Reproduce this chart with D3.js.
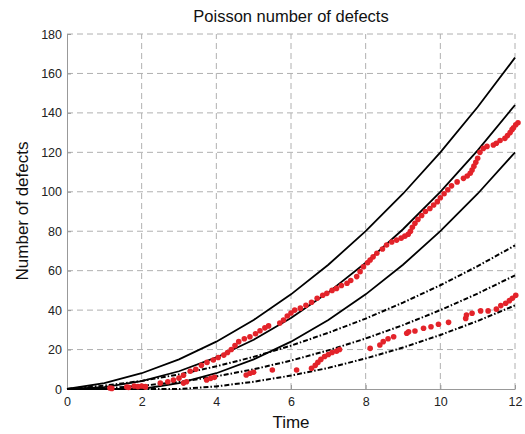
<html>
<head>
<style>
  body { margin: 0; background: #fff; }
  .grid line { stroke: #b0b0b0; stroke-width: 1; stroke-dasharray: 6,4; }
  .axis path, .axis line { stroke: #999; }
  .axis text { fill: #222; font-size: 12.5px; font-family: "Liberation Sans", Arial, sans-serif; }
  .lbl { font-family: "Liberation Sans", Arial, sans-serif; fill: #111; }
</style>
<script src="https://cdnjs.cloudflare.com/ajax/libs/d3/7.8.5/d3.min.js"></script>
</head>
<body>
<script>
var width = 525, height = 434;

// time points of the model curves
var times = [0, 1, 2, 3, 4, 5, 6, 7, 8, 9, 10, 11, 12];
// solid: mean and bounds of process 1
var upper1 = [0, 3, 8, 15, 24, 35, 48, 63, 80, 99, 120, 143, 168];
var mean1  = [0, 1, 4, 9, 16, 25, 36, 49, 64, 81, 100, 121, 144];
var lower1 = [0, 0, 0, 3, 8, 15, 24, 35, 48, 63, 80, 99, 120];
// dash-dot: mean and bounds of process 2
var upper2 = [0, 1.7, 4.1, 7.4, 11.5, 16.3, 22, 28.5, 35.7, 43.8, 52.6, 62.3, 72.8];
var mean2  = [0, 0.4, 1.6, 3.6, 6.4, 10, 14.4, 19.6, 25.6, 32.4, 40, 48.4, 57.6];
var lower2 = [0, 0, 0, 0, 1.3, 3.7, 6.8, 10.7, 15.5, 21, 27.4, 34.5, 42.4];

// observed defects (time, count)
var obs1 = [[1.15,0.5],[1.6,1],[1.8,1.5],[2.0,1.5],[2.1,1.2],[2.5,3],[2.7,3.7],[2.85,4.6],[3.0,5.5],[3.12,7],
  [3.3,9],[3.45,10],[3.6,12],[3.75,13.5],[3.92,14.7],[4.05,16],[4.2,17.2],[4.3,18.5],[4.4,20],[4.5,22],
  [4.6,24],[4.75,25.5],[4.9,26.5],[5.05,28],[5.17,29.5],[5.3,31],[5.4,32],[5.7,33.5],[5.8,35],[5.9,37],
  [6.0,38.5],[6.1,40],[6.25,41],[6.4,42.5],[6.55,44],[6.7,46],[6.85,47.5],[6.96,48.5],[7.1,50],[7.22,51],
  [7.35,52.5],[7.5,53.6],[7.6,55],[7.76,57],[7.85,59.5],[7.94,62],[8.05,64],[8.12,65.4],[8.2,67],[8.3,68.8],
  [8.45,71],[8.56,73],[8.7,74.5],[8.83,75.5],[8.95,76.5],[9.05,77.5],[9.14,78.5],[9.2,80],[9.25,82],[9.32,84],
  [9.4,86],[9.5,88],[9.6,90],[9.72,91.5],[9.82,93.3],[9.92,95],[10.0,97],[10.1,99],[10.2,101],[10.3,103],
  [10.45,105],[10.62,106.8],[10.72,108],[10.8,109.4],[10.85,111],[10.9,113],[10.95,115],[11.0,117],[11.06,120],
  [11.15,122],[11.25,123],[11.42,123.7],[11.5,124.6],[11.6,126],[11.73,127.1],[11.8,128.5],[11.87,130],
  [11.92,131.5],[11.96,132.5],[12.02,134],[12.08,135]];
var obs2 = [[1.2,0.3],[1.65,0.8],[1.9,1.2],[2.1,1],[3.12,3],[3.2,3.7],[3.74,4.6],[3.85,5.4],[3.95,5.9],
  [4.8,7.1],[4.9,8],[5.0,8.5],[5.5,9.6],[6.15,9.6],[6.55,10.5],[6.65,12],[6.72,13.5],[6.8,15],[6.9,16.5],
  [7.0,17.5],[7.1,18.5],[7.22,19.2],[7.3,20],[8.12,20.6],[8.38,22.3],[8.47,24],[8.6,25.5],[8.75,26.5],
  [9.1,28.3],[9.15,29],[9.32,29.4],[9.55,30.8],[9.75,31.6],[9.95,32.8],[10.22,33.8],[10.68,35.8],[10.7,37.5],
  [10.85,38.4],[11.08,39.6],[11.28,39.6],[11.5,40.5],[11.62,42.3],[11.75,43.5],[11.85,44.8],[11.93,46],[12.02,47.5]];

var xTicks = [0, 2, 4, 6, 8, 10, 12];
var yTicks = [0, 20, 40, 60, 80, 100, 120, 140, 160, 180];

var svg = d3.select("body").append("svg")
    .attr("width", width)
    .attr("height", height);

var x = d3.scaleLinear().domain([0, 12]).range([67, 515]);
var y = d3.scaleLinear().domain([0, 180]).range([389, 34]);

// grid
var grid = svg.append("g").attr("class", "grid");
grid.selectAll(".gx").data(xTicks.slice(1)).enter().append("line")
    .attr("x1", d => x(d)).attr("x2", d => x(d))
    .attr("y1", y(0)).attr("y2", y(180));
grid.selectAll(".gy").data(yTicks.slice(1)).enter().append("line")
    .attr("x1", x(0)).attr("x2", x(12))
    .attr("y1", d => y(d)).attr("y2", d => y(d));

// axes
svg.append("g").attr("class", "axis")
    .attr("transform", "translate(0," + y(0) + ")")
    .call(d3.axisBottom(x).tickValues(xTicks).tickSizeInner(-4).tickSizeOuter(0).tickPadding(8));
svg.append("g").attr("class", "axis")
    .attr("transform", "translate(" + x(0) + ",0)")
    .call(d3.axisLeft(y).tickValues(yTicks).tickSizeInner(-4).tickSizeOuter(0).tickPadding(5));

var line = d3.line()
    .x((d, i) => x(times[i]))
    .y(d => y(d));

[upper1, mean1, lower1].forEach(function(s) {
    svg.append("path").datum(s)
        .attr("d", line)
        .attr("fill", "none")
        .attr("stroke", "#000")
        .attr("stroke-width", 1.8);
});
[upper2, mean2, lower2].forEach(function(s) {
    svg.append("path").datum(s)
        .attr("d", line)
        .attr("fill", "none")
        .attr("stroke", "#000")
        .attr("stroke-width", 2)
        .attr("stroke-dasharray", "5,2,1.5,2");
});

// observations
[obs1, obs2].forEach(function(s) {
    svg.append("g").selectAll("circle").data(s).enter().append("circle")
        .attr("cx", d => x(d[0]))
        .attr("cy", d => y(d[1]))
        .attr("r", 2.8)
        .attr("fill", "#e3232a");
});

// labels
svg.append("text").attr("class", "lbl")
    .attr("x", 291).attr("y", 22)
    .attr("text-anchor", "middle")
    .attr("font-size", "16.5px")
    .text("Poisson number of defects");
svg.append("text").attr("class", "lbl")
    .attr("x", 291).attr("y", 428)
    .attr("text-anchor", "middle")
    .attr("font-size", "17px")
    .text("Time");
svg.append("text").attr("class", "lbl")
    .attr("transform", "translate(28,211) rotate(-90)")
    .attr("text-anchor", "middle")
    .attr("font-size", "17px")
    .text("Number of defects");
</script>
</body>
</html>
